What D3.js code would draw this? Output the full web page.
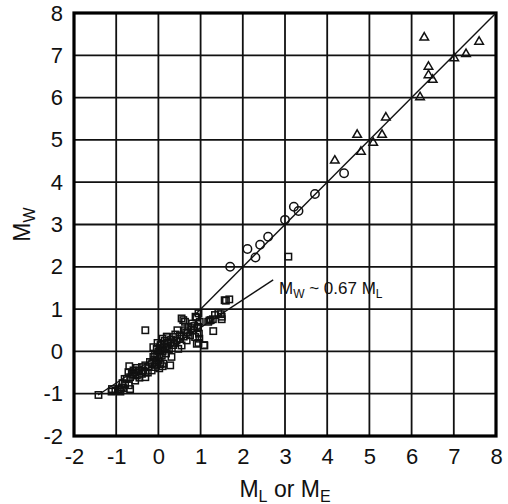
<!DOCTYPE html>
<html>
<head>
<meta charset="utf-8">
<script src="https://cdn.jsdelivr.net/npm/d3@7"></script>
<style>
  html, body { margin: 0; padding: 0; background: #fff; }
  svg { display: block; }
  text { font-family: "Liberation Sans", Arial, Helvetica, sans-serif; fill: #111; }
</style>
</head>
<body>
<svg id="chart" width="508" height="504"></svg>
<script>
// ---- data ----
const xTicks = [-2, -1, 0, 1, 2, 3, 4, 5, 6, 7, 8];
const yTicks = [-2, -1, 0, 1, 2, 3, 4, 5, 6, 7, 8];

// triangles (large events)
const triX = [6.30, 7.60, 7.29, 7.01, 6.40, 6.40, 6.50, 6.20, 5.39, 4.71, 5.30, 5.09, 4.80, 4.18];
const triY = [7.42, 7.32, 7.03, 6.93, 6.73, 6.53, 6.42, 6.01, 5.53, 5.12, 5.12, 4.93, 4.72, 4.51];

// circles (medium events)
const cirX = [4.40, 3.71, 3.21, 3.32, 3.00, 2.60, 2.41, 2.11, 2.30, 1.70];
const cirY = [4.21, 3.72, 3.42, 3.32, 3.11, 2.71, 2.52, 2.42, 2.22, 2.00];

// squares (small events)
const sqX = [3.08, 1.68, 1.60, 1.57, 1.50, 1.42, 1.34, 1.24, 1.18, 1.48, 1.29, 1.21, 1.50, 1.30, 1.09, 0.91, 0.88,
  -0.31, 0.98, 0.94, 0.96, 0.87, 0.80, 0.71, 0.63, 0.59, 0.51, 0.43, 0.35, 0.28, 0.20, 0.16, 0.08, 0.04,
  -0.04, -0.08, -0.12, 0.00, 0.08, 0.12, -0.08, -0.16, -0.24, -0.31, -0.39, -0.47, -0.51, -0.59, -0.63,
  -0.71, -0.67, -0.75, -0.55, -0.51, -0.31, -0.39, -0.87, -0.94, -1.02, -1.10, -0.79, -0.67, 0.28, 0.31,
  0.47, 0.55, 0.67, 0.75, 0.83, 0.63, 0.55, 1.08, -1.42, -1.11, -0.91, -0.83, -0.69, 0.20,
  0.00, -0.05, 0.05, 0.10, -0.10, 0.15, 0.20, 0.25, 0.05, -0.20, 0.35, 0.40, 0.45, 0.60, 0.70, 0.85,
  0.90, 0.95, -0.30, -0.45, -0.55, -0.80, -0.85, -0.70, -0.90, 0.02, -0.02, 0.10, 0.95,
  -0.03, 0.03, 0.06, -0.06, 0.12, 0.18, 0.22, 0.30, 0.38, 0.50, 0.66, 0.78, -0.15, -0.25, -0.36, -0.60,
  0.92, 0.97, 0.10, -0.12];
const sqY = [2.24, 1.23, 1.20, 1.21, 0.82, 0.91, 0.86, 0.74, 0.70, 0.88, 0.76, 0.73, 0.76, 0.48, 0.14, 0.18, 0.82,
  0.50, 0.70, 0.58, 0.42, 0.34, 0.66, 0.58, 0.50, 0.74, 0.38, 0.26, 0.34, 0.22, 0.34, 0.10, 0.18, 0.02,
  0.06, -0.06, -0.13, -0.21, -0.10, -0.29, -0.37, -0.45, -0.37, -0.33, -0.37, -0.45, -0.39, -0.45, -0.53,
  -0.49, -0.61, -0.65, -0.69, -0.57, -0.61, -0.53, -0.85, -0.89, -0.93, -0.89, -0.77, -0.89, -0.33, -0.13,
  0.06, 0.14, 0.26, 0.38, 0.50, 0.70, 0.78, 0.15, -1.03, -0.95, -0.91, -0.87, -0.35, 0.35,
  0.00, -0.25, -0.30, 0.00, -0.20, 0.25, 0.10, 0.05, 0.15, -0.25, 0.15, 0.40, 0.50, 0.35, 0.45, 0.60,
  0.80, 0.20, -0.50, -0.62, -0.50, -0.65, -0.75, -0.80, -0.95, -0.40, 0.20, 0.30, 0.90,
  -0.10, -0.15, 0.08, -0.32, 0.05, -0.05, 0.18, 0.28, 0.20, 0.30, 0.45, 0.55, -0.28, -0.50, -0.45, -0.55,
  0.55, 0.30, -0.35, 0.10];

// reference lines: 1:1 line and Mw ~ 0.67 ML fit (endpoints)
const oneToOneX = [0.85, 8];
const oneToOneY = [0.85, 8];
const fitX = [-1.43, 2.72];
const fitY = [-1.03, 1.69];

// ---- drawing ----
const svg = d3.select("#chart");
const x = d3.scaleLinear().domain([-2, 8]).range([74, 496]);
const y = d3.scaleLinear().domain([-2, 8]).range([436, 13]);

// grid
const grid = svg.append("g").attr("stroke", "#111").attr("stroke-width", 1.8);
grid.selectAll("line.v").data(xTicks.slice(1, -1)).join("line")
  .attr("x1", d => x(d)).attr("x2", d => x(d)).attr("y1", y(-2)).attr("y2", y(8));
grid.selectAll("line.h").data(yTicks.slice(1, -1)).join("line").attr("class", "h")
  .attr("y1", d => y(d)).attr("y2", d => y(d)).attr("x1", x(-2)).attr("x2", x(8));

// axes (ticks hidden, labels only)
const xAxis = svg.append("g").attr("transform", `translate(0,${y(-2)})`)
  .call(d3.axisBottom(x).tickValues(xTicks).tickSize(0).tickPadding(12).tickFormat(d3.format("d")));
const yAxis = svg.append("g").attr("transform", `translate(${x(-2)},0)`)
  .call(d3.axisLeft(y).tickValues(yTicks).tickSize(0).tickPadding(11).tickFormat(d3.format("d")));
[xAxis, yAxis].forEach(a => {
  a.select(".domain").remove();
  a.selectAll("text").attr("font-size", 22).attr("fill", "#111")
    .attr("font-family", '"Liberation Sans", Arial, sans-serif')
    .text(d => d < 0 ? "-" + Math.abs(d) : String(d));
});

// frame
svg.append("rect").attr("x", x(-2)).attr("y", y(8))
  .attr("width", x(8) - x(-2)).attr("height", y(-2) - y(8))
  .attr("fill", "none").attr("stroke", "#000").attr("stroke-width", 3.2);

// lines
const line = d3.line().x(d => x(d[0])).y(d => y(d[1]));
svg.append("path").attr("d", line(d3.zip(oneToOneX, oneToOneY)))
  .attr("fill", "none").attr("stroke", "#111").attr("stroke-width", 1.4);
svg.append("path").attr("d", line(d3.zip(fitX, fitY)))
  .attr("fill", "none").attr("stroke", "#111").attr("stroke-width", 1.4);

// markers
const marks = svg.append("g").attr("fill", "none").attr("stroke", "#111").attr("stroke-width", 1.5);
marks.selectAll("rect.sq").data(d3.zip(sqX, sqY)).join("rect").attr("class", "sq")
  .attr("x", d => x(d[0]) - 3.2).attr("y", d => y(d[1]) - 3.2).attr("width", 6.4).attr("height", 6.4);
marks.selectAll("circle").data(d3.zip(cirX, cirY)).join("circle")
  .attr("cx", d => x(d[0])).attr("cy", d => y(d[1])).attr("r", 4.2);
const tri = d3.symbol().type(d3.symbolTriangle).size(32);
marks.selectAll("path.tri").data(d3.zip(triX, triY)).join("path").attr("class", "tri")
  .attr("transform", d => `translate(${x(d[0])},${y(d[1])})`).attr("d", tri());

// annotation
const ann = svg.append("text").attr("x", 279).attr("y", 294).attr("font-size", 17);
ann.append("tspan").text("M");
ann.append("tspan").attr("font-size", 12).attr("dy", 4).text("W");
ann.append("tspan").attr("dy", -4).text(" ~ 0.67 M");
ann.append("tspan").attr("font-size", 12).attr("dy", 4).text("L");

// axis titles
const xt = svg.append("text").attr("x", x(3)).attr("y", 497).attr("text-anchor", "middle").attr("font-size", 23);
xt.append("tspan").text("M");
xt.append("tspan").attr("font-size", 16).attr("dy", 5).text("L");
xt.append("tspan").attr("dy", -5).text(" or M");
xt.append("tspan").attr("font-size", 16).attr("dy", 5).text("E");

const yt = svg.append("text").attr("transform", `translate(30,${y(3)}) rotate(-90)`)
  .attr("text-anchor", "middle").attr("font-size", 23);
yt.append("tspan").text("M");
yt.append("tspan").attr("font-size", 16).attr("dy", 5).text("W");
</script>
</body>
</html>
